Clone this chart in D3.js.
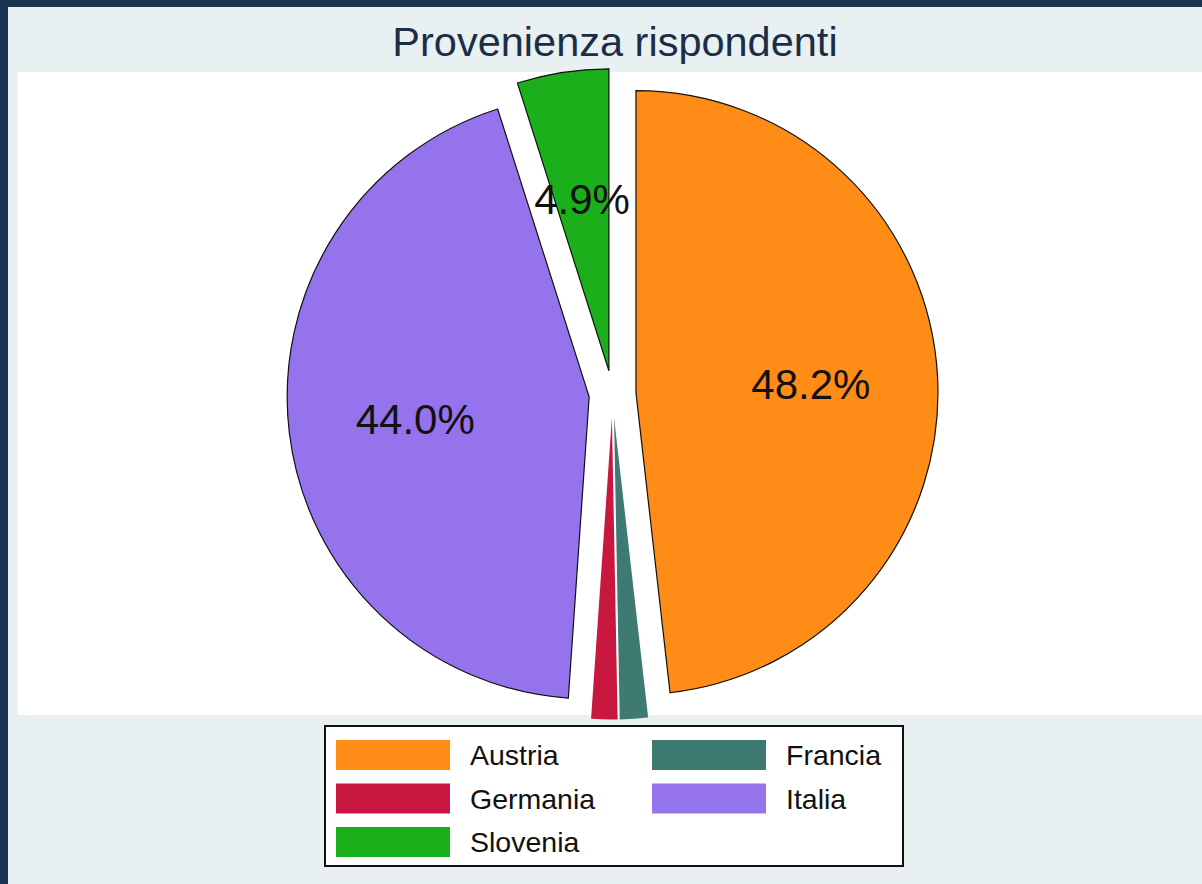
<!DOCTYPE html>
<html>
<head>
<meta charset="utf-8">
<script src="https://cdn.jsdelivr.net/npm/d3@7"></script>
<style>
  body { margin: 0; background: #1a3352; }
  svg { display: block; }
</style>
</head>
<body>
<script>
// Provenienza rispondenti - torta con spicchi staccati

let countries = ['Austria', 'Francia', 'Germania', 'Italia', 'Slovenia']
let shares = [48.2, 1.5, 1.4, 44.0, 4.9]
let sliceColors = ['#fe8c17', '#3e7a72', '#c8183f', '#9573ec', '#1bb01b']

let W = 1202
let H = 884

let svg = d3.select('body')
  .append('svg')
  .attr('width', W)
  .attr('height', H)

// sfondo grafico
svg.append('rect')
  .attr('x', 8).attr('y', 7)
  .attr('width', W - 8).attr('height', H - 7)
  .attr('fill', '#e8f0f2')
// area del plot
svg.append('rect')
  .attr('x', 18).attr('y', 72)
  .attr('width', W - 18).attr('height', 643)
  .attr('fill', '#ffffff')

// titolo
svg.append('text')
  .attr('x', 615).attr('y', 56)
  .attr('text-anchor', 'middle')
  .attr('font-family', 'Liberation Sans, Arial, sans-serif')
  .attr('font-size', 41.5)
  .attr('fill', '#1c2e45')
  .text('Provenienza rispondenti')

// torta
let cx = 612.5, cy = 394
let radius = 302
let explode = 23.5
let color = d3.scaleOrdinal().domain(countries).range(sliceColors)

let pie = d3.pie().sort(null).value(d => d.v)
let arcs = pie(countries.map((c, i) => ({ name: c, v: shares[i] })))
let arc = d3.arc().innerRadius(0).outerRadius(radius)
let total = d3.sum(shares)

let shift = (d, k) => {
  let a = (d.startAngle + d.endAngle) / 2
  return [Math.sin(a) * k, -Math.cos(a) * k]
}

let g = svg.append('g').attr('transform', 'translate(' + cx + ',' + cy + ')')

g.selectAll('path')
  .data(arcs)
  .enter()
  .append('path')
  .attr('d', arc)
  .attr('transform', d => 'translate(' + shift(d, explode) + ')')
  .attr('fill', d => color(d.data.name))
  .attr('stroke', d => d.data.v >= 3 ? '#111' : 'none')
  .attr('stroke-width', 1.2)
  .attr('stroke-linejoin', 'miter')

// etichette percentuali (solo spicchi grandi)
g.selectAll('text.lab')
  .data(arcs.filter(d => d.data.v >= 3))
  .enter()
  .append('text')
  .attr('class', 'lab')
  .attr('x', d => shift(d, explode + radius * 0.58)[0])
  .attr('y', d => shift(d, explode + radius * 0.58)[1] + 2)
  .attr('text-anchor', 'middle')
  .attr('dominant-baseline', 'central')
  .attr('font-family', 'Liberation Sans, Arial, sans-serif')
  .attr('font-size', 42)
  .attr('fill', '#111')
  .text(d => d3.format('.1%')(d.data.v / total))

// legenda
let legend = svg.append('g').attr('transform', 'translate(325,726)')
legend.append('rect')
  .attr('width', 578).attr('height', 140)
  .attr('fill', '#ffffff')
  .attr('stroke', '#111')
  .attr('stroke-width', 2)

let items = legend.selectAll('g.item')
  .data(countries)
  .enter()
  .append('g')
  .attr('class', 'item')
  .attr('transform', (d, i) => 'translate(' + (11 + (i % 2) * 316) + ',' + (14 + Math.floor(i / 2) * 43.5) + ')')

items.append('rect')
  .attr('width', 114).attr('height', 30)
  .attr('fill', d => color(d))

items.append('text')
  .attr('x', 134).attr('y', 15)
  .attr('dominant-baseline', 'central')
  .attr('font-family', 'Liberation Sans, Arial, sans-serif')
  .attr('font-size', 28.5)
  .attr('fill', '#111')
  .text(d => d)
</script>
</body>
</html>
